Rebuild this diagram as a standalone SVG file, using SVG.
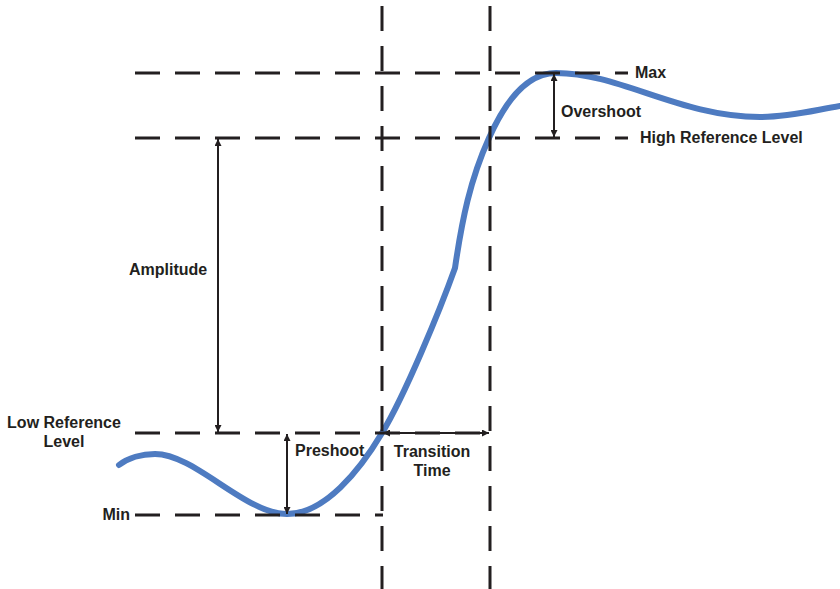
<svg xmlns="http://www.w3.org/2000/svg" width="840" height="589" viewBox="0 0 840 589">
<style>
.dash{stroke:#231f20;stroke-width:3;stroke-dasharray:25 15;fill:none}
.arr{stroke:#231f20;stroke-width:2;fill:none;marker-start:url(#ah);marker-end:url(#ah)}
.lbl{font-family:"Liberation Sans",Arial,sans-serif;font-weight:bold;font-size:16px;fill:#231f20}
</style>
<defs>
<marker id="ah" viewBox="0 0 10 10" refX="10" refY="5" markerWidth="9" markerHeight="7" markerUnits="userSpaceOnUse" orient="auto-start-reverse">
<path d="M0,0 L10,5 L0,10 Z" fill="#231f20"/>
</marker>
</defs>
<rect width="840" height="589" fill="#ffffff"/>
<g id="waveform">
<path d="M119,465 C128,458 142,454 155,454 C195,454 245,514 287,514 C325,514 360,470 382,433 C405,395 440,310 455,268 C462,220 470,180 489,138 C508,95 530,73 556,73 C620,73 680,117 760,117 C790,117 815,110 840,106" fill="none" stroke="#4e7bc1" stroke-width="6" stroke-linecap="round" stroke-linejoin="round"/>
</g>
<g id="connectors">
<line class="dash" x1="135" y1="73" x2="628" y2="73"/>
<line class="dash" x1="135" y1="138" x2="628" y2="138"/>
<line class="dash" x1="135" y1="433" x2="490" y2="433"/>
<line class="dash" x1="135" y1="515" x2="383" y2="515"/>
<line class="dash" x1="382" y1="6" x2="382" y2="589"/>
<line class="dash" x1="490" y1="6" x2="490" y2="589"/>
<line class="arr" x1="218" y1="139" x2="218" y2="432"/>
<line class="arr" x1="554" y1="74" x2="554" y2="137"/>
<line class="arr" x1="287" y1="434" x2="287" y2="514"/>
<line class="arr" x1="383" y1="433" x2="489" y2="433"/>
</g>
<g id="label-max"><text class="lbl" x="635" y="78">Max</text></g>
<g id="label-overshoot"><text class="lbl" x="561" y="117">Overshoot</text></g>
<g id="label-high"><text class="lbl" x="640" y="143">High Reference Level</text></g>
<g id="label-amplitude"><text class="lbl" x="129" y="275">Amplitude</text></g>
<g id="label-low"><text class="lbl" text-anchor="middle" x="64" y="428">Low Reference</text><text class="lbl" text-anchor="middle" x="64" y="447">Level</text></g>
<g id="label-min"><text class="lbl" text-anchor="end" x="130" y="520">Min</text></g>
<g id="label-preshoot"><text class="lbl" x="295" y="456">Preshoot</text></g>
<g id="label-transition"><text class="lbl" text-anchor="middle" x="432" y="457">Transition</text><text class="lbl" text-anchor="middle" x="432" y="476">Time</text></g>
</svg>
